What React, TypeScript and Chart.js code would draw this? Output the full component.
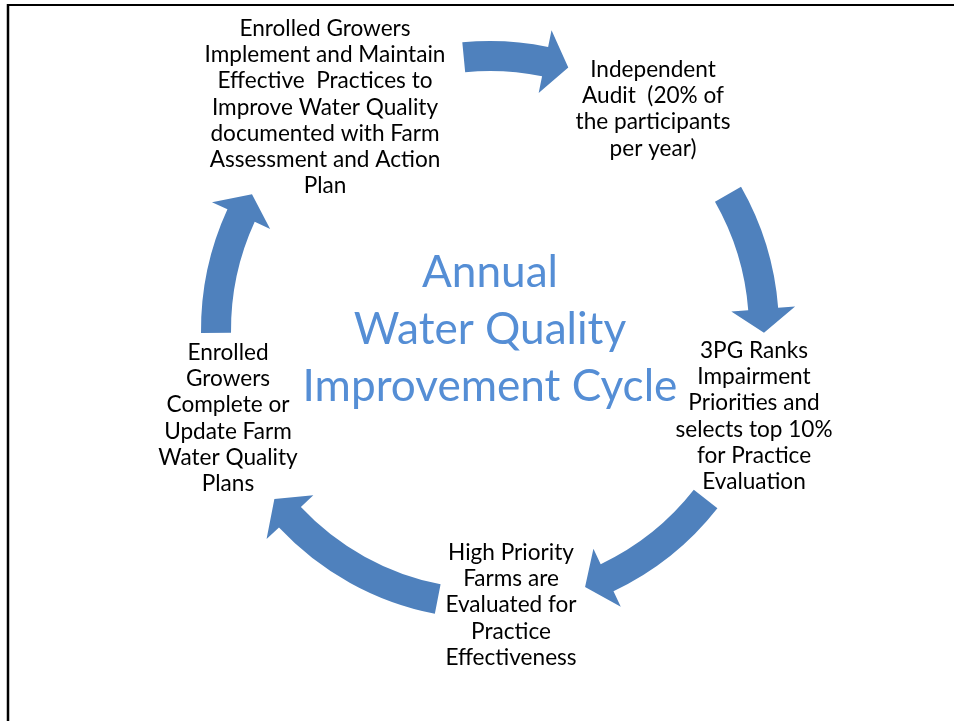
import React, { useEffect, useRef } from "react";
import { Chart, registerables } from "chart.js";

Chart.register(...registerables);

const W = 954;
const H = 721;

// ---- content ----
const titleLines = ["Annual", "Water Quality", "Improvement Cycle"];

const stepLabels: string[][] = [
  [
    "Enrolled Growers",
    "Implement and Maintain",
    "Effective  Practices to",
    "Improve Water Quality",
    "documented with Farm",
    "Assessment and Action",
    "Plan",
  ],
  ["Independent", "Audit  (20% of", "the participants", "per year)"],
  ["3PG Ranks", "Impairment", "Priorities and", "selects top 10%", "for Practice", "Evaluation"],
  ["High Priority", "Farms are", "Evaluated for", "Practice", "Effectiveness"],
  ["Enrolled", "Growers", "Complete or", "Update Farm", "Water Quality", "Plans"],
];

// text anchors (centre x, first baseline y) in diagram units
const stepX = [325, 653, 754, 511, 228];
const stepY = [36, 77, 358, 560, 360];

// cycle arrows (degrees, clockwise from 3 o'clock)
const arrowStartDeg = [-95.5, -29.7, 38.1, 101, 179.4];
const arrowTipDeg = [-73.4, 0.6, 69.7, 141.9, 209.7];

// ---- layout / style ----
const CENTER = { x: 490, y: 330 };
const RADIUS = 274;
const BODY_HALF = 15;
const HEAD_HALF = 32;
const HEAD_DEG = 5;
const LINE_GAP = 26.2;
const TITLE_Y = [287, 344, 401];
const TITLE_GAP_REF = { text: "Improvement Cycle", width: 375 };
const NODE_REF = { text: "Implement and Maintain", width: 241 };
const ARROW_COLOR = "#4F81BD";
const TITLE_COLOR = "#558ED5";
const FONT = "Lato, 'Noto Sans', sans-serif";

const rad = (d: number) => (d * Math.PI) / 180;

function fitSize(ctx: CanvasRenderingContext2D, text: string, width: number) {
  ctx.font = `100px ${FONT}`;
  const w = ctx.measureText(text).width;
  return (100 * width) / w;
}

const cyclePlugin = {
  id: "cycleDiagram",
  beforeDraw(chart: any) {
    const { ctx } = chart;
    ctx.save();
    ctx.fillStyle = "#ffffff";
    ctx.fillRect(0, 0, chart.width, chart.height);
    ctx.restore();
  },
  afterDraw(chart: any) {
    const { ctx, scales } = chart;
    const sx = scales.x;
    const sy = scales.y;
    const px = (v: number) => sx.getPixelForValue(v);
    const py = (v: number) => sy.getPixelForValue(v);
    const unit = px(1) - px(0);

    ctx.save();

    // frame
    ctx.strokeStyle = "#000";
    ctx.lineWidth = 2;
    ctx.beginPath();
    ctx.moveTo(px(7), py(5));
    ctx.lineTo(px(W + 5), py(5));
    ctx.stroke();
    ctx.lineWidth = 2.5;
    ctx.beginPath();
    ctx.moveTo(px(8), py(4));
    ctx.lineTo(px(8), py(H + 5));
    ctx.stroke();

    // arrows
    const cx = px(CENTER.x);
    const cy = py(CENTER.y);
    const R = RADIUS * unit;
    const rIn = (RADIUS - BODY_HALF) * unit;
    const rOut = (RADIUS + BODY_HALF) * unit;
    const hIn = (RADIUS - HEAD_HALF) * unit;
    const hOut = (RADIUS + HEAD_HALF) * unit;
    const pt = (r: number, a: number) => [cx + r * Math.cos(a), cy + r * Math.sin(a)];

    ctx.fillStyle = ARROW_COLOR;
    arrowStartDeg.forEach((s, i) => {
      const a0 = rad(s);
      const at = rad(arrowTipDeg[i]);
      const hb = rad(arrowTipDeg[i] - HEAD_DEG);
      ctx.beginPath();
      const p0 = pt(rOut, a0);
      ctx.moveTo(p0[0], p0[1]);
      ctx.arc(cx, cy, rOut, a0, hb, false);
      let p = pt(hOut, hb);
      ctx.lineTo(p[0], p[1]);
      p = pt(R, at);
      ctx.lineTo(p[0], p[1]);
      p = pt(hIn, hb);
      ctx.lineTo(p[0], p[1]);
      p = pt(rIn, hb);
      ctx.lineTo(p[0], p[1]);
      ctx.arc(cx, cy, rIn, hb, a0, true);
      ctx.closePath();
      ctx.fill();
    });

    // step labels
    const nodeSize = fitSize(ctx, NODE_REF.text, NODE_REF.width * unit);
    ctx.font = `${nodeSize}px ${FONT}`;
    ctx.fillStyle = "#000";
    ctx.textAlign = "center";
    ctx.textBaseline = "alphabetic";
    stepLabels.forEach((lines, i) => {
      lines.forEach((line, j) => {
        ctx.fillText(line, px(stepX[i]), py(stepY[i] + j * LINE_GAP));
      });
    });

    // title
    const titleSize = fitSize(ctx, TITLE_GAP_REF.text, TITLE_GAP_REF.width * unit);
    ctx.font = `${titleSize}px ${FONT}`;
    ctx.fillStyle = TITLE_COLOR;
    titleLines.forEach((line, j) => {
      ctx.fillText(line, px(CENTER.x), py(TITLE_Y[j]));
    });

    ctx.restore();
  },
};

export default function App() {
  const ref = useRef<HTMLCanvasElement | null>(null);

  useEffect(() => {
    document.body.style.margin = "0";
    const canvas = ref.current;
    if (!canvas) return;
    const chart = new Chart(canvas, {
      type: "scatter",
      data: {
        datasets: [
          {
            label: "steps",
            data: stepX.map((x, i) => ({ x, y: stepY[i] })),
            pointRadius: 0,
            pointHoverRadius: 0,
          },
        ],
      },
      options: {
        animation: false,
        responsive: false,
        maintainAspectRatio: false,
        devicePixelRatio: 1,
        layout: { padding: 0 },
        events: [],
        scales: {
          x: { type: "linear", min: 0, max: W, display: false },
          y: { type: "linear", min: 0, max: H, reverse: true, display: false },
        },
        plugins: {
          legend: { display: false },
          tooltip: { enabled: false },
          title: { display: false },
        },
      },
      plugins: [cyclePlugin],
    });
    return () => chart.destroy();
  }, []);

  return (
    <div style={{ position: "fixed", left: 0, top: 0, width: W, height: H, background: "#fff" }}>
      <canvas ref={ref} width={W} height={H} style={{ width: W, height: H, display: "block" }} />
    </div>
  );
}
